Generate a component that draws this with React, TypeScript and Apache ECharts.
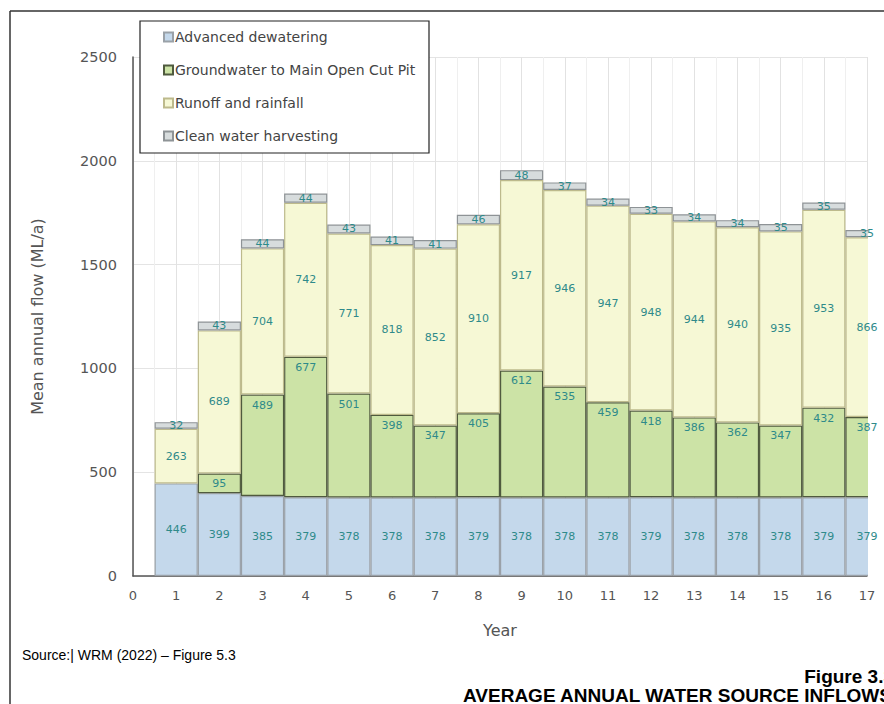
import React, { useEffect, useRef } from "react";
import * as echarts from "echarts";

const yearLabels = ["0", "1", "2", "3", "4", "5", "6", "7", "8", "9", "10", "11", "12", "13", "14", "15", "16", "17"];
const advancedDewatering = [446, 399, 385, 379, 378, 378, 378, 379, 378, 378, 378, 379, 378, 378, 378, 379, 379];
const groundwater = [0, 95, 489, 677, 501, 398, 347, 405, 612, 535, 459, 418, 386, 362, 347, 432, 387];
const runoffRainfall = [263, 689, 704, 742, 771, 818, 852, 910, 917, 946, 947, 948, 944, 940, 935, 953, 866];
const cleanWater = [32, 43, 44, 44, 43, 41, 41, 46, 48, 37, 34, 33, 34, 34, 35, 35, 35];
const seriesNames = [
  "Advanced dewatering",
  "Groundwater to Main Open Cut Pit",
  "Runoff and rainfall",
  "Clean water harvesting",
];

export default function App() {
  const ref = useRef<HTMLDivElement>(null);
  useEffect(() => {
    if (!ref.current) return;
    const chart = echarts.init(ref.current, undefined, { renderer: "svg" });
    const labelFont = { color: "#2E8A8A", fontSize: 11, fontFamily: "DejaVu Sans" };
    const toData = (vals: number[]) => [null, ...vals.map((v) => (v === 0 ? null : v))];
    // visible bars (no labels)
    const bars = (name: string, vals: number[], color: string, border: string) => ({
      name,
      type: "bar",
      stack: "total",
      barWidth: 43.2,
      z: 2,
      data: toData(vals),
      itemStyle: { color, borderColor: border, borderWidth: 1.2 },
      label: { show: false },
    });
    // transparent twin bars carrying the value labels, drawn above the edge mask
    const labels = (name: string, vals: number[], pos: string) => ({
      name: name + " (labels)",
      type: "bar",
      stack: "labels",
      barWidth: 43.2,
      barGap: "-100%",
      z: 5,
      silent: true,
      data: toData(vals),
      itemStyle: { color: "rgba(0,0,0,0)", borderWidth: 0 },
      label: {
        show: true,
        position: pos,
        distance: 5,
        ...labelFont,
        formatter: (p: any) => (p.value ? String(p.value) : ""),
      },
    });
    chart.setOption({
      animation: false,
      backgroundColor: "#ffffff",
      grid: { left: 133, top: 57, width: 734, height: 519, containLabel: false },
      legend: {
        orient: "vertical",
        left: 163,
        top: 29,
        padding: 0,
        z: 6,
        itemWidth: 9,
        itemHeight: 9,
        itemGap: 17,
        icon: "rect",
        textStyle: { color: "#444", fontSize: 14, fontFamily: "DejaVu Sans", lineHeight: 16, padding: [0, 0, 0, -3] },
        data: seriesNames,
      },
      xAxis: [
        {
          type: "category",
          data: yearLabels,
          boundaryGap: false,
          name: "Year",
          nameLocation: "middle",
          nameGap: 46,
          nameTextStyle: { color: "#555", fontSize: 16, fontFamily: "DejaVu Sans" },
          axisLine: { show: true, lineStyle: { color: "#555", width: 1.5 } },
          axisTick: { show: false },
          axisLabel: { interval: 0, color: "#555", fontSize: 13, fontFamily: "DejaVu Sans", margin: 13 },
          splitLine: { show: false },
        },
        {
          type: "value",
          min: 0,
          max: 17,
          interval: 0.5,
          position: "bottom",
          axisLine: { show: false },
          axisTick: { show: false },
          axisLabel: { show: false },
          splitLine: {
            show: true,
            lineStyle: { color: ["#e2e2e2", "#efefef"] },
          },
        },
      ],
      yAxis: {
        type: "value",
        min: 0,
        max: 2500,
        interval: 500,
        name: "Mean annual flow (ML/a)",
        nameLocation: "middle",
        nameGap: 88,
        nameTextStyle: { color: "#555", fontSize: 16, fontFamily: "DejaVu Sans" },
        axisLine: { show: true, lineStyle: { color: "#555", width: 1.5 } },
        axisTick: { show: false },
        axisLabel: {
          color: "#555",
          fontSize: 14.5,
          fontFamily: "DejaVu Sans",
          margin: 16,
          formatter: (v: number) => String(v),
        },
        splitLine: { show: true, lineStyle: { color: "#e4e4e4", width: 1 } },
      },
      series: [
        bars(seriesNames[0], advancedDewatering, "#C4D8EB", "#9AA1A8"),
        bars(seriesNames[1], groundwater, "#CCE3A6", "#4F5A3E"),
        bars(seriesNames[2], runoffRainfall, "#F6F8D5", "#BDBA8C"),
        bars(seriesNames[3], cleanWater, "#D7DCDD", "#8E9396"),
        labels(seriesNames[0], advancedDewatering, "inside"),
        labels(seriesNames[1], groundwater, "insideTop"),
        labels(seriesNames[2], runoffRainfall, "inside"),
        labels(seriesNames[3], cleanWater, "inside"),
      ],
      graphic: [
        {
          type: "rect",
          shape: { x: 868, y: 40, width: 20, height: 539 },
          style: { fill: "#ffffff" },
          z: 3,
        },
        { type: "line", shape: { x1: 10, y1: 11, x2: 884, y2: 11 }, style: { stroke: "#333", lineWidth: 1.5 }, z: 10 },
        { type: "line", shape: { x1: 10, y1: 11, x2: 10, y2: 704 }, style: { stroke: "#333", lineWidth: 1.5 }, z: 10 },
        {
          type: "rect",
          shape: { x: 140, y: 21, width: 289, height: 132 },
          style: { fill: "#ffffff", stroke: "#222", lineWidth: 1.2 },
          z: 3,
        },
        {
          type: "text",
          left: 22,
          top: 648,
          style: { text: "Source:| WRM (2022) \u2013 Figure 5.3", fill: "#000", font: "14px 'Liberation Sans', Arial, sans-serif" },
          z: 10,
        },
        {
          type: "text",
          x: 894,
          y: 676,
          style: {
            text: "Figure 3.3",
            fill: "#000",
            font: "bold 19px 'Liberation Sans', Arial, sans-serif",
            textAlign: "right",
            textVerticalAlign: "middle",
          },
          z: 10,
        },
        {
          type: "text",
          x: 463,
          y: 695,
          style: {
            text: "AVERAGE ANNUAL WATER SOURCE INFLOWS",
            fill: "#000",
            font: "bold 19px 'Liberation Sans', Arial, sans-serif",
            textAlign: "left",
            textVerticalAlign: "middle",
          },
          z: 10,
        },
      ],
    });
    return () => chart.dispose();
  }, []);
  return <div ref={ref} style={{ position: "absolute", left: 0, top: 0, width: 884, height: 704 }} />;
}
